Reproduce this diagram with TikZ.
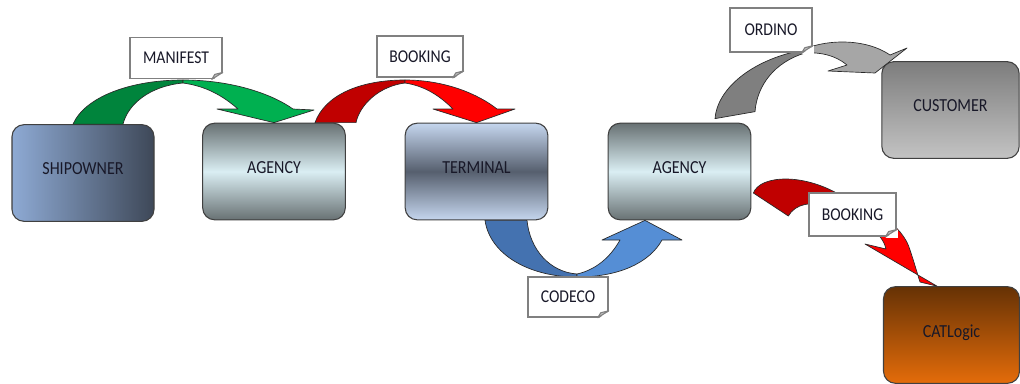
\documentclass[tikz,border=0pt]{standalone}
\usepackage{fontspec}
\setmainfont{Carlito}[FakeStretch=0.87]
\usepackage{xcolor}
\usetikzlibrary{calc}

\definecolor{shipL}{RGB}{142,170,212}
\definecolor{shipR}{RGB}{62,72,88}
\definecolor{agEdge}{RGB}{104,113,115}
\definecolor{agMid}{RGB}{218,238,243}
\definecolor{termEdge}{RGB}{197,214,238}
\definecolor{termMid}{RGB}{86,95,110}
\definecolor{custTop}{RGB}{125,125,125}
\definecolor{custBot}{RGB}{195,195,195}
\definecolor{catTop}{RGB}{102,50,5}
\definecolor{catBot}{RGB}{228,108,10}
\definecolor{greenBack}{RGB}{0,132,60}
\definecolor{greenFront}{RGB}{0,176,80}
\definecolor{redBack}{RGB}{192,0,0}
\definecolor{redFront}{RGB}{255,0,0}
\definecolor{blueBack}{RGB}{68,114,176}
\definecolor{blueFront}{RGB}{85,142,213}
\definecolor{grayBack}{RGB}{127,127,127}
\definecolor{grayFront}{RGB}{166,166,166}
\definecolor{tagEdge}{RGB}{128,128,128}
\definecolor{tagFold}{RGB}{191,191,191}
\definecolor{ink}{RGB}{24,24,40}

\tikzset{
  unit/.style={draw={rgb,255:red,64;green,64;blue,64}, line width=0.8pt, rounded corners=9pt,
    minimum width=107pt, minimum height=72.5pt, text depth=6pt, text=ink,
    font=\fontsize{13.8}{16}\selectfont},
  tag/.style={draw=tagEdge, line width=1.1pt, fill=white, minimum height=31pt, inner sep=0pt,
    text=ink, font=\fontsize{13.5}{16}\selectfont},
  flow/.style={draw={rgb,255:red,40;green,40;blue,40}, line width=0.5pt, line join=round},
}

\begin{document}
\begin{tikzpicture}[x=0.75pt,y=0.75pt,yscale=-1,xscale=1]
\useasboundingbox[fill=white] (0,0) rectangle (1020,383);

% Rounded boxes
\node[unit, left color=shipL, right color=shipR, minimum width=106.5pt] (ship) at (83,173) {SHIPOWNER};
\node[unit, top color=agEdge, bottom color=agEdge, middle color=agMid] (ag1) at (274,171.5) {AGENCY};
\node[unit, top color=termEdge, bottom color=termEdge, middle color=termMid] (term) at (476.5,171.5) {TERMINAL};
\node[unit, top color=agEdge, bottom color=agEdge, middle color=agMid] (ag2) at (679.5,171.5) {AGENCY};
\node[unit, top color=custTop, bottom color=custBot, minimum width=103pt] (cust) at (950.5,110) {CUSTOMER};
\node[unit, top color=catTop, bottom color=catBot, minimum width=102pt] (cat) at (951.5,335) {CATLogic};

% Shape: Curved Arrow, shipowner to agency
\filldraw[flow, fill=greenBack] ($(ship.north)+(-10,0)$) .. controls (85,97) and (130,80) .. (183,80) -- (183,83) .. controls (150,86) and (128,104) .. ($(ship.north)+(40,0)$) -- cycle;
\filldraw[flow, fill=greenFront] (183,80) .. controls (232,80) and (272,94) .. (293,109) -- (314,110) -- (ag1.north) -- (217,109) -- (238,109) .. controls (222,95) and (205,86) .. (183,83) -- cycle;

% Shape: Curved Arrow, agency to terminal
\filldraw[flow, fill=redBack] ($(ag1.north)+(41,0)$) .. controls (325,95) and (360,80) .. (405,80) -- (405,83) .. controls (380,86) and (360,104) .. ($(ag1.north)+(82,0)$) -- cycle;
\filldraw[flow, fill=redFront] (405,80) .. controls (445,80) and (478,94) .. (497,109) -- (515,109) -- (term.north) -- (433,109) -- (453,109) .. controls (440,96) and (425,86) .. (405,83) -- cycle;

% Shape: Curved Arrow, terminal to agency (underneath)
\filldraw[flow, fill=blueBack] ($(term.south)+(8.5,0)$) .. controls (490,255) and (530,277) .. (577,277) -- (577,274) .. controls (550,272) and (530,250) .. ($(term.south)+(50.5,0)$) -- cycle;
\filldraw[flow, fill=blueFront] (577,277) .. controls (620,277) and (650,262) .. (662,240) -- (682,240) -- ($(ag2.south)+(-34.5,0)$) -- (602,240) -- (620,240) .. controls (610,258) and (595,270) .. (577,274) -- cycle;

% Shape: Curved Arrow, agency to customer
\filldraw[flow, fill=grayBack] ($(ag2.north)+(35.5,-4)$) .. controls (717,90) and (750,60) .. (803,50) -- (805,53) .. controls (775,62) and (757,85) .. ($(ag2.north)+(75.5,-11)$) -- cycle;
\filldraw[flow, fill=grayFront] (803,50) .. controls (820,41) and (862,36) .. (890,55) -- (907,48) -- (875,73) -- (828,71) -- (847,65) .. controls (835,55) and (820,52) .. (805,53) -- cycle;

% Shape: Curved Arrow, agency to CATLogic
\filldraw[flow, fill=redBack] ($(ag2.east)+(2,21.5)$) .. controls (760,175) and (805,172) .. (845,198) -- (830,208) .. controls (812,200) and (795,204) .. ($(ag2.east)+(37,44.5)$) -- cycle;
\filldraw[flow, fill=redFront] (840,198) .. controls (870,205) and (903,225) .. (910,250) .. controls (915,265) and (918,276) .. (920,282) -- ($(cat.north)+(-14.5,0)$) -- (865,244) -- (886,249) .. controls (884,240) and (875,222) .. (830,208) -- cycle;

% Text Node
\node[tag, minimum width=69pt] (manifest) at (176,58) {MANIFEST};
% Text Node
\node[tag, minimum width=64.5pt] (booking) at (420,56.5) {BOOKING};
% Text Node
\node[tag, minimum width=60pt, minimum height=30pt] (codeco) at (568,297) {CODECO};
% Text Node
\node[tag, minimum width=61.5pt, minimum height=33pt] (ordino) at (771,30) {ORDINO};
% Text Node
\node[tag, minimum width=65pt, minimum height=32pt] (bookcat) at (852.5,214.5) {BOOKING};

% folded corners of the tags
\foreach \t in {manifest,booking,codeco,ordino,bookcat}{
  \fill[white] ($(\t.south east)+(1.2,-7)$) -- ($(\t.south east)+(1.2,1.2)$) -- ($(\t.south east)+(-11,1.2)$) -- cycle;
  \filldraw[draw=tagEdge, line width=0.8pt, fill=tagFold, line join=round] ($(\t.south east)+(0,-7)$) -- ($(\t.south east)+(-11,0)$) -- ($(\t.south east)+(-8,-5)$) -- cycle;
}

\end{tikzpicture}
\end{document}
